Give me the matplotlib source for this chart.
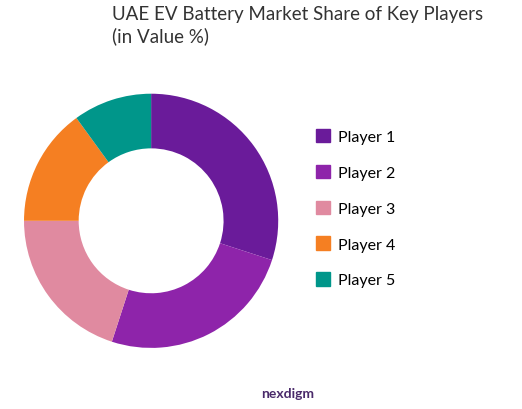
import matplotlib
matplotlib.use("Agg")
import matplotlib.pyplot as plt
from matplotlib.patches import Patch

labels = ["Player 1", "Player 2", "Player 3", "Player 4", "Player 5"]
values = [30, 25, 20, 15, 10]
colors = ["#6A1B9A", "#8E24AA", "#E08AA0", "#F57F22", "#00968A"]

plt.rcParams['font.family'] = ['Lato', 'DejaVu Sans']
fig = plt.figure(figsize=(5.22, 4.10), dpi=100)
ax = fig.add_axes([0.046, 0.149, 0.487, 0.62])
ax.pie(values, colors=colors, startangle=90, counterclock=False,
       wedgeprops=dict(width=0.43, edgecolor='white', linewidth=0))
ax.set_xlim(-1, 1); ax.set_ylim(-1, 1)
ax.set_aspect('equal')
fig.text(0.215, 0.985, "UAE EV Battery Market Share of Key Players\n(in Value %)",
         fontsize=13.5, color="#333333", va='top', ha='left', linespacing=1.3)
handles = [Patch(color=c) for c in colors]
fig.legend(handles, labels, loc='center left', bbox_to_anchor=(0.578, 0.49),
           frameon=False, fontsize=11.5, labelspacing=1.3, handlelength=0.9,
           handleheight=0.9, handletextpad=0.5)
fig.text(0.5, 0.04, "nexdigm", fontsize=10, color="#4A2A6A", ha='left', va='center',
         fontweight='bold')
fig.savefig("out.png", dpi=100, facecolor='white')
